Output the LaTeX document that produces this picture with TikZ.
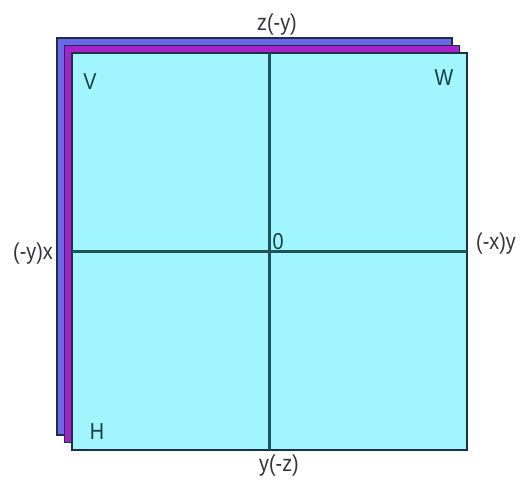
\documentclass[tikz,border=0pt]{standalone}
\usepackage{fontspec}
\setmainfont{Liberation Sans}
\usetikzlibrary{positioning}

\definecolor{backblue}{RGB}{106,104,234}
\definecolor{midmagenta}{RGB}{168,34,204}
\definecolor{frontcyan}{RGB}{160,245,255}
\definecolor{edgedark}{RGB}{28,48,66}
\definecolor{axisteal}{RGB}{28,84,88}
\definecolor{labelgray}{RGB}{52,52,56}
\definecolor{planeteal}{RGB}{22,64,66}

\begin{document}
\begin{tikzpicture}[
x=1pt, y=-1pt,
layer/.style={draw=edgedark, line width=1.8pt},
axis/.style={axisteal, line width=2.2pt},
lbl/.style={
inner sep=0pt,
xscale=0.86,
font=\fontsize{23}{27}\selectfont,
text=labelgray
},
plane/.style={lbl, text=planeteal}
]
\useasboundingbox (0,0) rectangle (524,479);

% stacked layers, back to front
\filldraw[layer, fill=backblue] (57,38) rectangle ++(395,397);
\filldraw[layer, fill=midmagenta] (64.5,45.5) rectangle ++(395,397);
\filldraw[layer, fill=frontcyan] (72,53) rectangle ++(395,397);

% axis ends on the front square
\coordinate (top) at (269.5,53);
\coordinate (bottom) at (269.5,450);
\coordinate (left) at (72,251.5);
\coordinate (right) at (467,251.5);

\draw[axis] (top) -- (bottom);
\draw[axis] (left) -- (right);

\node[lbl] (zlbl) at (277,25) {z(-y)};
\node[lbl] (ylbl) at (279,466) {y(-z)};
\node[lbl] (xlbl) at (33,254) {(-y)x};
\node[lbl] (ylbl2) at (496,244) {(-x)y};
\node[plane] (origin) at (278,242) {0};

\node[plane] (vlbl) at (90,82) {V};
\node[plane] (wlbl) at (444,78) {W};
\node[plane] (hlbl) at (97,432) {H};

\end{tikzpicture}
\end{document}
